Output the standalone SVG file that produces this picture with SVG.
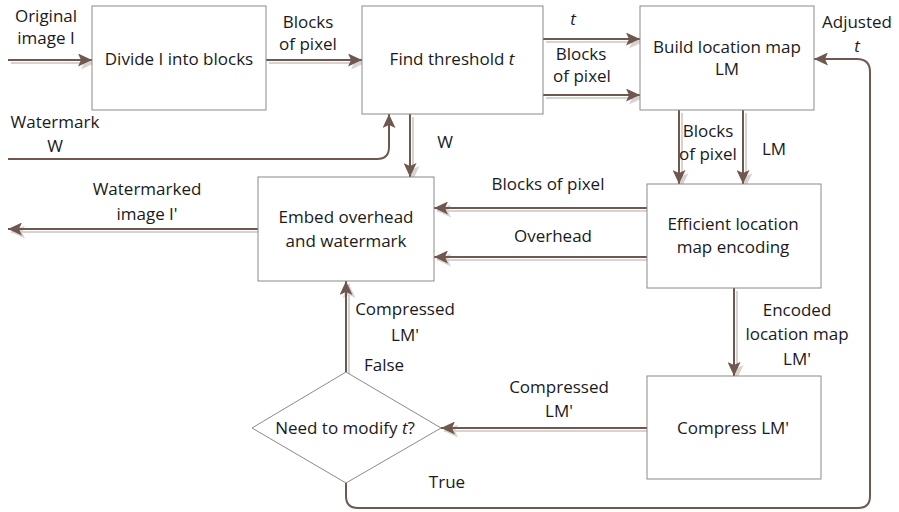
<svg xmlns="http://www.w3.org/2000/svg" width="899" height="512" viewBox="0 0 899 512">
<style>
text{font-family:"Open Sans","Liberation Sans",sans-serif;font-size:17px;fill:#1a1a1a;text-anchor:middle}
.box{fill:#fff;stroke:#8a8a8a;stroke-width:1}
.c{fill:none;stroke:#6f5850;stroke-width:2}
.s{fill:none;stroke:#d9d3cf;stroke-width:2}
.i{font-style:italic}
</style>
<defs>
<marker id="ah" markerUnits="userSpaceOnUse" markerWidth="15" markerHeight="13" refX="14" refY="6.5" orient="auto"><path d="M0,0 L14,6.5 L0,13 L3,6.5 z" fill="#6f5850"/></marker>
<marker id="ahs" markerUnits="userSpaceOnUse" markerWidth="15" markerHeight="13" refX="14" refY="6.5" orient="auto"><path d="M0,0 L14,6.5 L0,13 L3,6.5 z" fill="#d9d3cf"/></marker>
</defs>
<g id="connectors">
<g transform="translate(3,3)">
<path class="s" marker-end="url(#ahs)" d="M8,60 H92"/>
<path class="s" marker-end="url(#ahs)" d="M266,60 H362"/>
<path class="s" marker-end="url(#ahs)" d="M543,39 H640"/>
<path class="s" marker-end="url(#ahs)" d="M543,95 H640"/>
<path class="s" marker-end="url(#ahs)" d="M410,114 V177"/>
<path class="s" marker-end="url(#ahs)" d="M679,110 V184"/>
<path class="s" marker-end="url(#ahs)" d="M743,110 V184"/>
<path class="s" marker-end="url(#ahs)" d="M647,208 H434"/>
<path class="s" marker-end="url(#ahs)" d="M647,257 H434"/>
<path class="s" marker-end="url(#ahs)" d="M258,229 H8"/>
<path class="s" marker-end="url(#ahs)" d="M734,288 V376"/>
<path class="s" marker-end="url(#ahs)" d="M647,428 H441"/>
<path class="s" marker-end="url(#ahs)" d="M346,372 V281"/>
</g>
<path class="c" marker-end="url(#ah)" d="M8,60 H92"/>
<path class="c" marker-end="url(#ah)" d="M266,60 H362"/>
<path class="c" marker-end="url(#ah)" d="M543,39 H640"/>
<path class="c" marker-end="url(#ah)" d="M543,95 H640"/>
<path class="c" marker-end="url(#ah)" d="M8,159 H377 Q389,159 389,147 V114"/>
<path class="c" marker-end="url(#ah)" d="M410,114 V177"/>
<path class="c" marker-end="url(#ah)" d="M679,110 V184"/>
<path class="c" marker-end="url(#ah)" d="M743,110 V184"/>
<path class="c" marker-end="url(#ah)" d="M647,208 H434"/>
<path class="c" marker-end="url(#ah)" d="M647,257 H434"/>
<path class="c" marker-end="url(#ah)" d="M258,229 H8"/>
<path class="c" marker-end="url(#ah)" d="M734,288 V376"/>
<path class="c" marker-end="url(#ah)" d="M647,428 H441"/>
<path class="c" marker-end="url(#ah)" d="M346,372 V281"/>
<path class="c" marker-end="url(#ah)" d="M346,483 V496 Q346,508 358,508 H858 Q870,508 870,496 V72 Q870,59 857,59 H814"/>
</g>
<g id="divide"><rect class="box" x="92" y="6" width="174" height="104"/><text x="179" y="65">Divide I into blocks</text></g>
<g id="find"><rect class="box" x="362" y="6" width="181" height="108"/><text x="452" y="65">Find threshold <tspan class="i">t</tspan></text></g>
<g id="build"><rect class="box" x="640" y="6" width="174" height="104"/><text x="727" y="53">Build location map</text><text x="727" y="75">LM</text></g>
<g id="efficient"><rect class="box" x="647" y="184" width="174" height="104"/><text x="733" y="230">Efficient location</text><text x="733" y="253">map encoding</text></g>
<g id="embed"><rect class="box" x="258" y="177" width="176" height="104"/><text x="346" y="223">Embed overhead</text><text x="346" y="247">and watermark</text></g>
<g id="compress"><rect class="box" x="647" y="376" width="174" height="103"/><text x="733" y="434">Compress LM'</text></g>
<g id="decision"><path class="box" d="M346,372 L441,428 L346,483 L252,428 z"/><text x="345" y="434">Need to modify <tspan class="i">t</tspan>?</text></g>
<g id="labels">
<text x="46" y="22">Original</text><text x="46" y="44">image I</text>
<text x="308" y="28">Blocks</text><text x="308" y="50">of pixel</text>
<text x="573" y="25" class="i">t</text>
<text x="581" y="60">Blocks</text><text x="582" y="82">of pixel</text>
<text x="857" y="28">Adjusted</text><text x="857" y="52" class="i">t</text>
<text x="55" y="128">Watermark</text><text x="55" y="152">W</text>
<text x="445" y="148">W</text>
<text x="708" y="137">Blocks</text><text x="708" y="160">of pixel</text>
<text x="774" y="155">LM</text>
<text x="147" y="195">Watermarked</text><text x="147" y="220">image I'</text>
<text x="548" y="190">Blocks of pixel</text>
<text x="553" y="242">Overhead</text>
<text x="797" y="316">Encoded</text><text x="797" y="340">location map</text><text x="797" y="365">LM'</text>
<text x="405" y="315">Compressed</text><text x="405" y="341">LM'</text>
<text x="384" y="371">False</text>
<text x="559" y="393">Compressed</text><text x="559" y="417">LM'</text>
<text x="447" y="488">True</text>
</g>
</svg>
